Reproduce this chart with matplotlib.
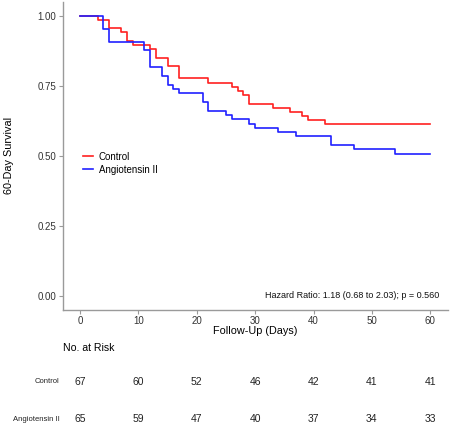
import numpy as np
import matplotlib
matplotlib.use('Agg')
import matplotlib.pyplot as plt
import matplotlib.transforms as mtransforms

plt.rcParams['font.family'] = ['Liberation Sans', 'DejaVu Sans']

# Kaplan-Meier data (event day -> number of deaths)
ctrl_n = 67
ctrl_days = [3, 5, 7, 8, 9, 12, 13, 15, 17, 22, 26, 27, 28, 29, 33, 36, 38, 39, 42]
ctrl_deaths = [1, 2, 1, 2, 1, 1, 2, 2, 3, 1, 1, 1, 1, 2, 1, 1, 1, 1, 1]

ang_n = 65
ang_days = [4, 5, 11, 12, 14, 15, 16, 17, 21, 22, 25, 26, 29, 30, 34, 37, 43, 47, 54]
ang_deaths = [3, 3, 2, 4, 2, 2, 1, 1, 2, 2, 1, 1, 1, 1, 1, 1, 2, 1, 1]

risk_times = [0, 10, 20, 30, 40, 50, 60]
ctrl_risk = [67, 60, 52, 46, 42, 41, 41]
ang_risk = [65, 59, 47, 40, 37, 34, 33]

end_day = 60
hr_text = "Hazard Ratio: 1.18 (0.68 to 2.03); p = 0.560"


def km_curve(n, days, deaths):
    t = np.concatenate([[0], days, [end_day]])
    s = 1 - np.cumsum(deaths) / n
    s = np.concatenate([[1.0], s, [s[-1]]])
    return t, s


fig = plt.figure(figsize=(4.5, 4.29), dpi=100)
ax = fig.add_axes([0.139, 0.2774, 0.856, 0.7186])

t, s = km_curve(ctrl_n, ctrl_days, ctrl_deaths)
ax.step(t, s, where='post', color='#ff2020', lw=1.2, label='Control')
t, s = km_curve(ang_n, ang_days, ang_deaths)
ax.step(t, s, where='post', color='#2020ff', lw=1.2, label='Angiotensin II')

ax.set_xlim(-3, 63)
ax.set_ylim(-0.05, 1.05)
ax.set_xticks(risk_times)
ax.set_yticks([0, 0.25, 0.5, 0.75, 1.0])
ax.set_yticklabels(['0.00', '0.25', '0.50', '0.75', '1.00'])
for side in ['top', 'right']:
    ax.spines[side].set_visible(False)
for side in ['left', 'bottom']:
    ax.spines[side].set_color('#9a9a9a')
    ax.spines[side].set_linewidth(1.0)
ax.tick_params(colors='#9a9a9a', labelcolor='#333333', labelsize=7,
               length=3, width=0.8, pad=1.5)

ax.set_xlabel('Follow-Up (Days)', fontsize=7.8, labelpad=0)
ax.set_ylabel('60-Day Survival', fontsize=7.8, labelpad=17)

ax.legend(loc='center left', bbox_to_anchor=(0.054, 0.476), frameon=False,
          fontsize=7, handlelength=1.0, handletextpad=0.6, labelspacing=0.3,
          borderpad=0, borderaxespad=0)

ax.text(61.6, 0.0, hr_text, ha='right', va='center', fontsize=6.5, color='#111111')

# Number-at-risk table below the plot
trans = mtransforms.blended_transform_factory(ax.transData, fig.transFigure)
fig.text(0.139, 0.189, 'No. at Risk', fontsize=7.6, va='center', ha='left')
rows = [('Control', ctrl_risk, 0.1096), ('Angiotensin II', ang_risk, 0.0226)]
for name, counts, yy in rows:
    fig.text(0.1318, yy, name, fontsize=5.5, ha='right', va='center', color='#222222')
    for x, c in zip(risk_times, counts):
        ax.text(x, yy, str(c), transform=trans, fontsize=7.5, ha='center',
                va='center', clip_on=False, color='#222222')

fig.savefig('out.png', dpi=100)
